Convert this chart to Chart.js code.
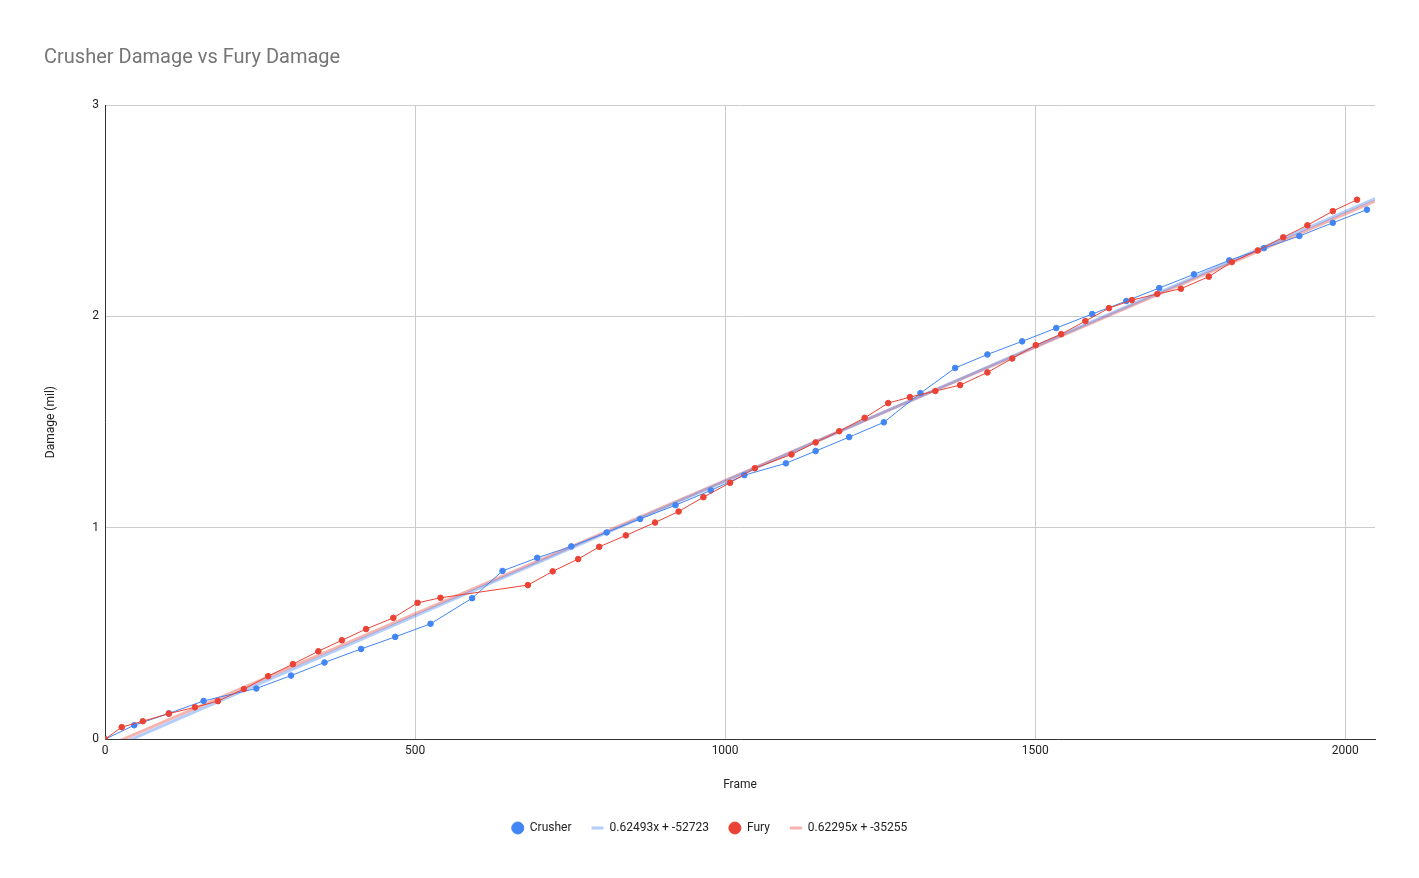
<!DOCTYPE html>
<html>
<head>
<meta charset="utf-8">
<script src="https://cdn.jsdelivr.net/npm/chart.js@4"></script>
<style>
  html, body { margin: 0; padding: 0; background: #fff; }
  #wrap { width: 1419px; height: 878px; }
</style>
</head>
<body>
<div id="wrap"><canvas id="chart"></canvas></div>
<script>
const crusherFrames = [0, 47, 103, 159, 244, 300, 354, 413, 468, 525, 592, 641, 697, 752, 809, 863, 920, 977, 1031, 1098, 1146, 1200, 1256, 1315, 1371, 1423, 1479, 1534, 1592, 1647, 1700, 1756, 1813, 1869, 1926, 1980, 2035];
const crusherDamage = [0, 0.066, 0.122, 0.181, 0.240, 0.301, 0.363, 0.427, 0.484, 0.546, 0.667, 0.796, 0.858, 0.912, 0.978, 1.042, 1.107, 1.177, 1.249, 1.305, 1.363, 1.429, 1.499, 1.637, 1.756, 1.820, 1.882, 1.945, 2.011, 2.073, 2.134, 2.199, 2.265, 2.323, 2.380, 2.443, 2.505];

const furyFrames = [0, 27, 61, 103, 145, 182, 224, 263, 303, 344, 382, 421, 465, 504, 541, 682, 722, 763, 797, 840, 887, 925, 965, 1008, 1048, 1107, 1146, 1184, 1225, 1263, 1298, 1339, 1379, 1423, 1463, 1501, 1542, 1581, 1619, 1656, 1697, 1735, 1780, 1817, 1859, 1900, 1939, 1980, 2019];
const furyDamage = [0, 0.057, 0.085, 0.121, 0.151, 0.180, 0.237, 0.298, 0.355, 0.416, 0.468, 0.521, 0.574, 0.645, 0.669, 0.729, 0.794, 0.852, 0.910, 0.964, 1.025, 1.077, 1.145, 1.213, 1.282, 1.347, 1.404, 1.457, 1.520, 1.590, 1.618, 1.647, 1.675, 1.735, 1.801, 1.864, 1.916, 1.978, 2.039, 2.077, 2.106, 2.131, 2.188, 2.257, 2.312, 2.374, 2.431, 2.498, 2.552];

const seriesNames = ['Crusher', '0.62493x + -52723', 'Fury', '0.62295x + -35255'];
const xTicks = [0, 500, 1000, 1500, 2000];
const yTicks = [0, 1, 2, 3];
const xMax = 2048;

// least squares trendline over the points of one series
function trend(xs, ys) {
  const n = xs.length;
  let sx = 0, sy = 0, sxx = 0, sxy = 0;
  for (let i = 0; i < n; i++) {
    sx += xs[i]; sy += ys[i]; sxx += xs[i] * xs[i]; sxy += xs[i] * ys[i];
  }
  const m = (n * sxy - sx * sy) / (n * sxx - sx * sx);
  const b = (sy - m * sx) / n;
  return [{ x: 0, y: b }, { x: xMax, y: m * xMax + b }];
}

const toPoints = (xs, ys) => xs.map((x, i) => ({ x: x, y: ys[i] }));

const blue = '#4285f4';
const red = '#ea4335';

Chart.defaults.font.family = 'Roboto, Arial, sans-serif';
Chart.defaults.color = '#222';

new Chart(document.getElementById('chart'), {
  type: 'scatter',
  data: {
    datasets: [
      {
        label: seriesNames[0],
        data: toPoints(crusherFrames, crusherDamage),
        showLine: true,
        borderColor: blue,
        backgroundColor: blue,
        borderWidth: 1,
        pointRadius: 2.8,
        pointHoverRadius: 2.8,
        pointStyle: 'circle',
        order: 2
      },
      {
        label: seriesNames[1],
        data: trend(crusherFrames, crusherDamage),
        showLine: true,
        borderColor: 'rgba(66,133,244,0.4)',
        backgroundColor: 'rgba(66,133,244,0.4)',
        borderWidth: 3,
        pointRadius: 0,
        pointStyle: 'line',
        order: 3
      },
      {
        label: seriesNames[2],
        data: toPoints(furyFrames, furyDamage),
        showLine: true,
        borderColor: red,
        backgroundColor: red,
        borderWidth: 1,
        pointRadius: 2.8,
        pointHoverRadius: 2.8,
        pointStyle: 'circle',
        order: 1
      },
      {
        label: seriesNames[3],
        data: trend(furyFrames, furyDamage),
        showLine: true,
        borderColor: 'rgba(234,67,53,0.4)',
        backgroundColor: 'rgba(234,67,53,0.4)',
        borderWidth: 3,
        pointRadius: 0,
        pointStyle: 'line',
        order: 4
      }
    ]
  },
  options: {
    responsive: true,
    maintainAspectRatio: false,
    animation: false,
    layout: { padding: { left: 44, right: 44, top: 0, bottom: 34 } },
    plugins: {
      title: {
        display: true,
        text: 'Crusher Damage vs Fury Damage',
        align: 'start',
        color: '#757575',
        font: { size: 20, weight: 'normal' },
        padding: { top: 46, bottom: 35 }
      },
      legend: {
        position: 'bottom',
        labels: {
          usePointStyle: true,
          boxWidth: 12,
          boxHeight: 8.5,
          padding: 20,
          color: '#222',
          font: { size: 12 },
          sort: (a, b) => a.datasetIndex - b.datasetIndex
        }
      },
      tooltip: { enabled: false }
    },
    scales: {
      x: {
        type: 'linear',
        min: 0,
        max: xMax,
        afterBuildTicks: axis => { axis.ticks = xTicks.map(v => ({ value: v })); },
        grid: { color: '#cccccc', drawTicks: false },
        border: { color: '#333', width: 1 },
        ticks: { padding: 5, font: { size: 12 }, callback: v => String(v) },
        title: { display: true, text: 'Frame', font: { size: 12 }, padding: { top: 14, bottom: 10 } }
      },
      y: {
        type: 'linear',
        min: 0,
        max: 3,
        afterBuildTicks: axis => { axis.ticks = yTicks.map(v => ({ value: v })); },
        afterFit: axis => { axis.width = 61; },
        grid: { color: '#cccccc', drawTicks: false },
        border: { color: '#333', width: 1 },
        ticks: { padding: 6, font: { size: 12 }, callback: v => String(v) },
        title: { display: true, text: 'Damage (mil)', font: { size: 12 }, padding: { top: 0, bottom: 0 } }
      }
    }
  }
});
</script>
</body>
</html>
